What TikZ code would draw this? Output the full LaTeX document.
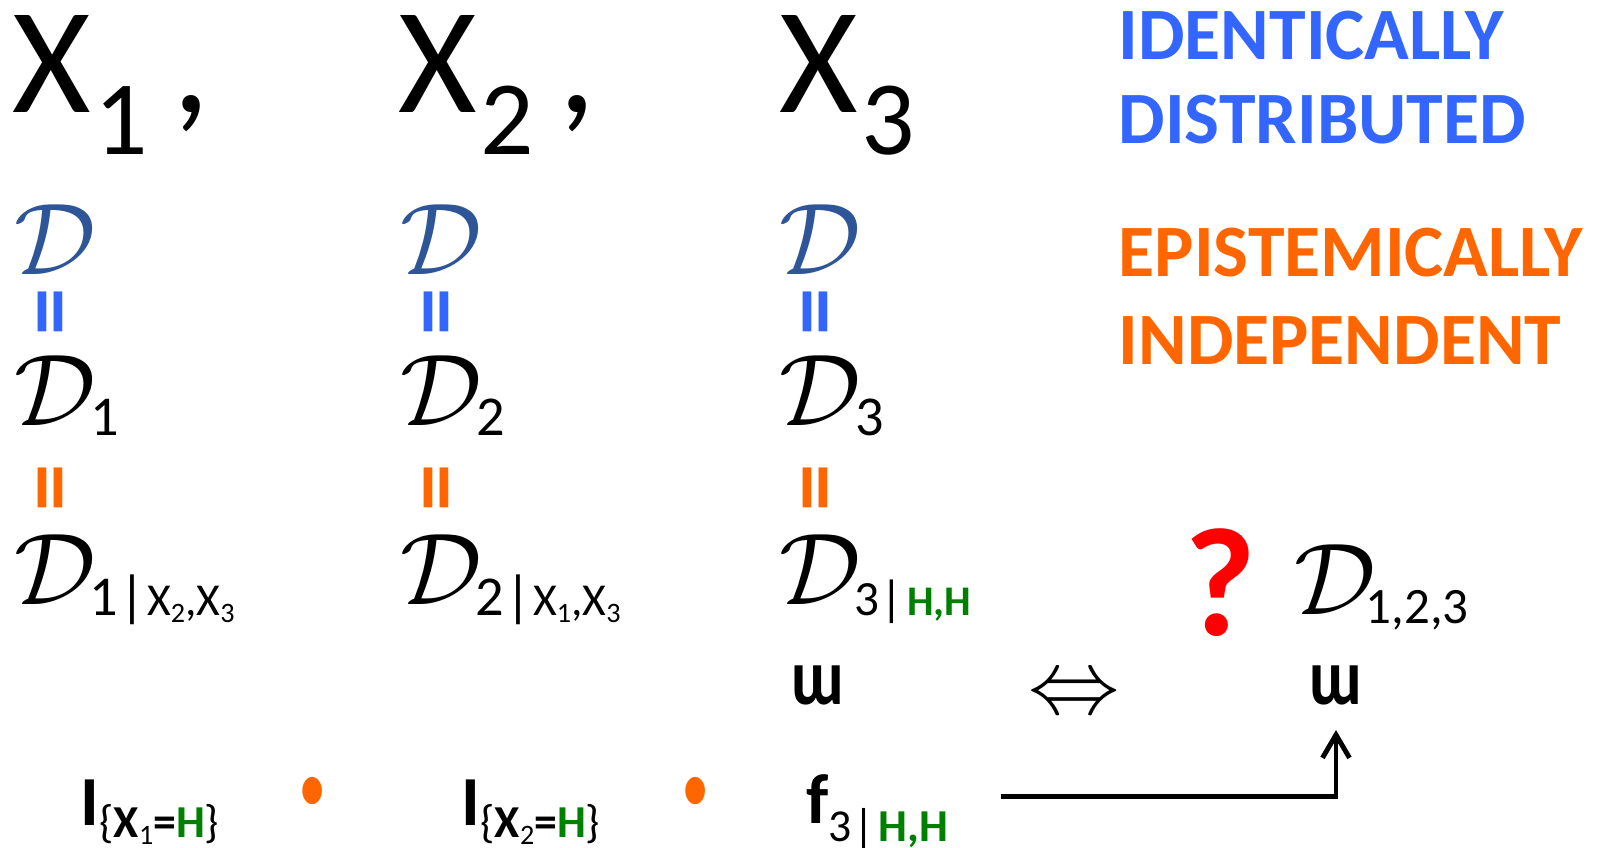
\documentclass[tikz,border=0pt]{standalone}
\usepackage{fontspec}
\setmainfont{Carlito}
\usepackage{xcolor}
\usepackage{tikz}
\usetikzlibrary{arrows.meta}

\definecolor{idblue}{HTML}{3366FF}
\definecolor{eporange}{HTML}{FF6600}
\definecolor{dblue}{HTML}{2E5597}
\definecolor{hgreen}{HTML}{008000}
\newcommand{\setfs}[1]{\fontsize{#1}{#1}\selectfont}
\newcommand{\calD}{\scalebox{2.9}{$\mathcal{D}$}}
\newcommand{\wup}{\resizebox{15pt}{11pt}{\bfseries ɯ}}
\tikzset{
  lbl/.style={anchor=base west, inner sep=0pt},
  eqbar/.style={rotate=90, inner sep=0pt, font=\bfseries\setfs{27}},
  word/.style={lbl, font=\bfseries\setfs{21}},
  mdot/.style={text=eporange, inner sep=0pt, anchor=base, font=\bfseries\setfs{12}}
}

\begin{document}
\begin{tikzpicture}[x=0.01cm,y=0.01cm]
\useasboundingbox (0,0) rectangle (1608,848);

\node[lbl] (x1) at (12,735) {\setfs{43}X\hspace{1pt}\raisebox{-11.7pt}{\setfs{30}1}\hspace{7pt},};
\node[lbl] (x2) at (398,735) {\setfs{43}X\hspace{1pt}\raisebox{-11.7pt}{\setfs{30}2}\hspace{7pt},};
\node[lbl] (x3) at (779,735) {\setfs{43}X\hspace{1pt}\raisebox{-11.7pt}{\setfs{30}3}};

\node[word, text=idblue] (idtop) at (1118,788) {IDENTICALLY};
\node[word, text=idblue] (idbot) at (1118,704) {DISTRIBUTED};
\node[word, text=eporange] (eptop) at (1118,571) {EPISTEMICALLY};
\node[word, text=eporange] (epbot) at (1118,483) {INDEPENDENT};

\foreach \i/\cx in {1/14,2/400,3/779}{
  \node[lbl, text=dblue] (dtop\i) at (\cx,573) {\calD};
  \node[eqbar, text=idblue] (eqb\i) at (\cx+45,536) {=};
  \node[lbl] (dmid\i) at (\cx,422) {\calD\hspace{-1.5pt}\raisebox{-2.6pt}{\setfs{16}\i}};
  \node[eqbar, text=eporange] (eqo\i) at (\cx+45,360) {=};
}

\node[lbl] (dcond1) at (14,243) {\calD\hspace{-2pt}\raisebox{-3pt}{\setfs{16}1\hspace{0.5pt}|\hspace{0.5pt}{\setfs{13}X\raisebox{-2pt}{\setfs{8}2},X\raisebox{-2pt}{\setfs{8}3}}}};
\node[lbl] (dcond2) at (400,243) {\calD\hspace{-2pt}\raisebox{-3pt}{\setfs{16}2\hspace{0.5pt}|\hspace{0.5pt}{\setfs{13}X\raisebox{-2pt}{\setfs{8}1},X\raisebox{-2pt}{\setfs{8}3}}}};
\node[lbl] (dcond3) at (779,243) {\calD\hspace{-2pt}\raisebox{-3pt}{\setfs{14}3\hspace{0.5pt}|\hspace{1pt}{\bfseries\setfs{12}\color{hgreen}H,H}}};

\node[lbl, text=red, font=\bfseries\setfs{44}] (qmark) at (1184,212) {?};
\node[lbl] (djoint) at (1294,233) {\calD\hspace{-3pt}\raisebox{-2.5pt}{\setfs{14.5}1,2,3}};

\node[inner sep=0pt, anchor=south] (cup3) at (818,142.5) {\wup};
\node[inner sep=0pt] (iff) at (1074,151) {\scalebox{2.6}{$\Leftrightarrow$}};
\node[inner sep=0pt, anchor=south] (cupj) at (1336,142.5) {\wup};

\node[lbl] (ind1) at (80,22) {{\bfseries\setfs{20}I}\raisebox{-3.4pt}{\setfs{13}\{\textbf{X}\raisebox{-2pt}{\setfs{8}1}\textbf{=}\textbf{\color{hgreen}H}\}}};
\node[mdot] (dot1) at (313,15) {\scalebox{2.5}[3.5]{·}};
\node[lbl] (ind2) at (461,22) {{\bfseries\setfs{20}I}\raisebox{-3.4pt}{\setfs{13}\{\textbf{X}\raisebox{-2pt}{\setfs{8}2}\textbf{=}\textbf{\color{hgreen}H}\}}};
\node[mdot] (dot2) at (696,15) {\scalebox{2.5}[3.5]{·}};
\node[lbl] (fcond) at (806,24) {{\bfseries\setfs{20}f}\raisebox{-5pt}{\setfs{13}3\hspace{0.5pt}|\hspace{1pt}\textbf{\color{hgreen}H,H}}};

\draw[line width=1.4pt, -{Straight Barb[length=2.3mm,width=2.7mm]}] ([shift={(52,16)}]fcond.east) -| ([shift={(0,-24.5)}]cupj.south);
\end{tikzpicture}
\end{document}
